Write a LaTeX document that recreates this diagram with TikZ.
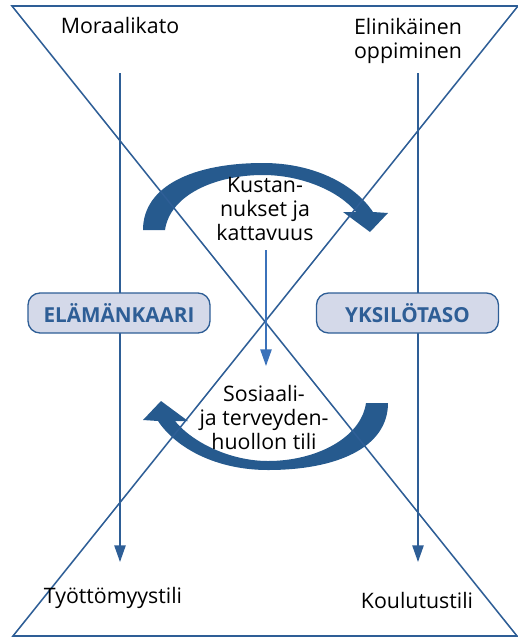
\documentclass[tikz,border=0pt]{standalone}
\usepackage{fontspec}
\setmainfont{Open Sans}
\usepackage{tikz}
\usetikzlibrary{arrows.meta, positioning}
\definecolor{linjasin}{HTML}{2E5E96}
\definecolor{kaarisin}{HTML}{265A8E}
\definecolor{keskisin}{HTML}{3B72BA}
\definecolor{laatikko}{HTML}{D4D9E9}
\tikzset{
    teksti/.style={font=\fontsize{16}{18}\selectfont, align=center, inner sep=0pt},
    taso/.style={draw=linjasin, line width=1pt, fill=laatikko, rounded corners=9pt,
        minimum width=136.5pt, minimum height=30pt, inner sep=0pt,
        font=\fontsize{15.5}{16}\selectfont\bfseries, text=linjasin},
    nuoli/.style={draw=linjasin, line width=1.1pt, -{Triangle[width=8.5pt,length=12.5pt]}},
}

\begin{document}
\begin{tikzpicture}[x=0.75pt, y=-0.75pt]
                \useasboundingbox (0,0) rectangle (518,637);

                \fill[kaarisin] (143,230) .. controls (143,185) and (195,163) .. (263,163)
                    .. controls (315,163) and (355,185) .. (373,212)
                    -- (388,213) -- (370,232) -- (343,212) -- (356,212)
                    .. controls (338,190) and (300,175) .. (263,175)
                    .. controls (215,175) and (170,195) .. (165,230) -- cycle;
                \fill[kaarisin] (388,403) .. controls (388,448) and (336,470) .. (268,470)
                    .. controls (216,470) and (176,448) .. (158,421)
                    -- (143,420) -- (161,401) -- (188,421) -- (175,421)
                    .. controls (193,443) and (231,461) .. (268,461)
                    .. controls (316,461) and (361,438) .. (366,403) -- cycle;

                \draw[linjasin, line width=1.15pt] (12,6) -- (518,6) -- (13,636) -- (517,636) -- cycle;

                \node[teksti, anchor=base] (moraali) at (120,33) {Moraalikato};
                \node[teksti] (elinik) at (408,41) {Elinikäinen\\oppiminen};
                \node[teksti] (kustan) at (265,209) {Kustan-\\nukset ja\\kattavuus};
                \node[teksti] (sosiaali) at (264,417) {Sosiaali-\\ja terveyden-\\huollon tili};
                \node[teksti, anchor=base] (tyotto) at (113,603) {Työttömyystili};
                \node[teksti, anchor=base] (koulutus) at (417,608) {Koulutustili};

                \coordinate (vasalku) at (120,73);
                \coordinate (vasloppu) at (120,562);
                \coordinate (oikalku) at (418,73);
                \coordinate (oikloppu) at (418,562);
                \coordinate (keskalku) at (266,250);
                \coordinate (keskloppu) at (266,366);

                \draw[nuoli] (vasalku) -- (vasloppu);
                \draw[nuoli] (oikalku) -- (oikloppu);
                \draw[nuoli, draw=keskisin] (keskalku) -- (keskloppu);

                \node[taso] (elama) at (119,313) {ELÄMÄNKAARI};
                \node[taso] (yksilo) at (407.5,313) {YKSILÖTASO};
            \end{tikzpicture}
\end{document}
